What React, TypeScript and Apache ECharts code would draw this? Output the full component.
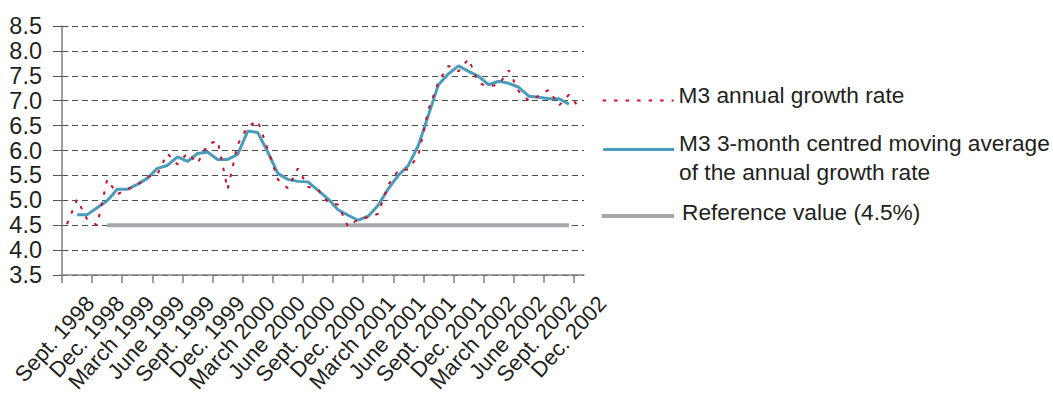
import React, { useEffect, useRef } from "react";
import * as echarts from "echarts";

// Monthly categories (Sept. 1998 – Dec. 2002)
const months = [
  "Sep 1998", "Oct 1998", "Nov 1998", "Dec 1998",
  "Jan 1999", "Feb 1999", "Mar 1999", "Apr 1999", "May 1999", "Jun 1999",
  "Jul 1999", "Aug 1999", "Sep 1999", "Oct 1999", "Nov 1999", "Dec 1999",
  "Jan 2000", "Feb 2000", "Mar 2000", "Apr 2000", "May 2000", "Jun 2000",
  "Jul 2000", "Aug 2000", "Sep 2000", "Oct 2000", "Nov 2000", "Dec 2000",
  "Jan 2001", "Feb 2001", "Mar 2001", "Apr 2001", "May 2001", "Jun 2001",
  "Jul 2001", "Aug 2001", "Sep 2001", "Oct 2001", "Nov 2001", "Dec 2001",
  "Jan 2002", "Feb 2002", "Mar 2002", "Apr 2002", "May 2002", "Jun 2002",
  "Jul 2002", "Aug 2002", "Sep 2002", "Oct 2002", "Nov 2002", "Dec 2002",
];

// Quarterly tick labels
const quarterLabels = [
  "Sept. 1998", "Dec. 1998", "March 1999", "June 1999", "Sept. 1999", "Dec. 1999",
  "March 2000", "June 2000", "Sept. 2000", "Dec. 2000", "March 2001", "June 2001",
  "Sept. 2001", "Dec. 2001", "March 2002", "June 2002", "Sept. 2002", "Dec. 2002",
];

const annualGrowth = [
  4.52, 5.02, 4.62, 4.50, 5.42, 5.12, 5.22, 5.30, 5.47, 5.52,
  5.94, 5.72, 5.95, 5.74, 6.12, 6.20, 5.22, 6.12, 6.48, 6.60,
  6.02, 5.42, 5.24, 5.64, 5.27, 5.22, 4.96, 4.91, 4.47, 4.62,
  4.66, 4.73, 5.31, 5.60, 5.62, 5.90, 6.82, 7.38, 7.70, 7.59,
  7.84, 7.35, 7.29, 7.32, 7.61, 7.19, 7.00, 7.10, 7.22, 6.90,
  7.12, 6.87,
];

const movingAverage = [
  null, 4.71, 4.71, 4.85, 4.99, 5.22, 5.22, 5.32, 5.44, 5.64,
  5.70, 5.87, 5.78, 5.94, 5.97, 5.82, 5.82, 5.92, 6.39, 6.36,
  5.97, 5.54, 5.42, 5.38, 5.37, 5.20, 5.03, 4.81, 4.70, 4.60,
  4.68, 4.90, 5.23, 5.50, 5.70, 6.10, 6.71, 7.32, 7.54, 7.70,
  7.59, 7.49, 7.32, 7.39, 7.35, 7.27, 7.09, 7.07, 7.04, 7.04,
  6.93, null,
];

const referenceValue = [
  null, null, null, null, 4.5, 4.5, 4.5, 4.5, 4.5, 4.5,
  4.5, 4.5, 4.5, 4.5, 4.5, 4.5, 4.5, 4.5, 4.5, 4.5,
  4.5, 4.5, 4.5, 4.5, 4.5, 4.5, 4.5, 4.5, 4.5, 4.5,
  4.5, 4.5, 4.5, 4.5, 4.5, 4.5, 4.5, 4.5, 4.5, 4.5,
  4.5, 4.5, 4.5, 4.5, 4.5, 4.5, 4.5, 4.5, 4.5, 4.5,
  4.5, null,
];

const NAME_A = "M3 annual growth rate";
const NAME_B = "M3 3-month centred moving average of the annual growth rate";
const NAME_C = "Reference value (4.5%)";

const FONT = "'Liberation Sans', Arial, Helvetica, sans-serif";
const TEXT = "#231f20";
const FS_Y = 23.5;
const FS_X = 22;
const FS_LEG = 22.7;
const RED = "#c8102e";
const BLUE = "#4b9bbb";
const GREY = "#a7a7a9";
const AXIS = "#808080";

export default function App() {
  const ref = useRef<HTMLDivElement>(null);

  useEffect(() => {
    if (!ref.current) return;
    const chart = echarts.init(ref.current, null, { renderer: "svg" });
    const gridBase = { top: 26, height: 249, outerBoundsMode: "none", containLabel: false };
    const tok = (lineHeight: number, padding: number[]) => ({
      fontSize: FS_LEG, color: TEXT, fontFamily: FONT, lineHeight, padding,
    });
    const legendBase = {
      orient: "vertical", padding: 0, itemHeight: 1, selectedMode: false,
      itemStyle: { opacity: 0, borderWidth: 0 },
      textStyle: { fontSize: FS_LEG, color: TEXT, fontFamily: FONT },
    };
    chart.setOption({
      animation: false,
      backgroundColor: "#ffffff",
      grid: [
        { ...gridBase, left: 62, width: 522 },
        { ...gridBase, left: 62, width: 512 },
        { ...gridBase, left: 90, width: 512 },
      ],
      xAxis: [
        {
          type: "category", gridIndex: 0, data: months, boundaryGap: true,
          axisLine: { show: true, lineStyle: { color: AXIS, width: 1.5 } },
          axisTick: { show: false }, axisLabel: { show: false }, splitLine: { show: false },
        },
        {
          type: "category", gridIndex: 1, data: quarterLabels, boundaryGap: false,
          axisLine: { show: false },
          axisTick: { show: true, interval: 0, length: 8, lineStyle: { color: AXIS, width: 1.5 } },
          axisLabel: { show: false }, splitLine: { show: false },
        },
        {
          type: "category", gridIndex: 2, data: quarterLabels, boundaryGap: false,
          axisLine: { show: false }, axisTick: { show: false }, splitLine: { show: false },
          axisLabel: { interval: 0, rotate: 48, margin: 24.5, fontSize: FS_X, color: TEXT, fontFamily: FONT },
        },
      ],
      yAxis: [
        {
          type: "value", gridIndex: 0, min: 3.5, max: 8.5, interval: 0.5,
          axisLine: { show: true, lineStyle: { color: AXIS, width: 1.5 } },
          axisTick: { show: true, length: 9, lineStyle: { color: "#555555", width: 1 } },
          axisLabel: {
            margin: 20, fontSize: FS_Y, color: TEXT, fontFamily: FONT,
            formatter: (v: number) => v.toFixed(1),
          },
          splitLine: { show: true, lineStyle: { color: "#4d4d4d", width: 1, type: [6, 4] } },
        },
        { type: "value", gridIndex: 1, show: false, min: 3.5, max: 8.5 },
        { type: "value", gridIndex: 2, show: false, min: 3.5, max: 8.5 },
      ],
      legend: [
        {
          ...legendBase,
          data: [{ name: NAME_A }], left: 601.6, top: 83, itemWidth: 71,
          lineStyle: { width: 2 },
          formatter: "{a|{name}}",
          textStyle: { ...legendBase.textStyle, rich: { a: tok(26, [0, 0, 12, 0]) } },
        },
        {
          ...legendBase,
          data: [{ name: NAME_B }], left: 601.6, top: 131, itemWidth: 71,
          lineStyle: { width: 3 },
          formatter: (name: string) => {
            const i = name.indexOf(" of the");
            return `{l1|${name.slice(0, i)}}\n{l2|${name.slice(i + 1)}}`;
          },
          textStyle: { ...legendBase.textStyle, rich: { l1: tok(44, [0, 0, 0, 0]), l2: tok(14, [0, 0, 0, 0]) } },
        },
        {
          ...legendBase,
          data: [{ name: NAME_C }], left: 600, top: 200, itemWidth: 72,
          lineStyle: { width: 4 },
          formatter: "{c|{name}}",
          textStyle: { ...legendBase.textStyle, rich: { c: tok(26, [0, 0, 9, 3]) } },
        },
      ],
      series: [
        {
          name: NAME_C, type: "line", xAxisIndex: 0, yAxisIndex: 0, data: referenceValue,
          symbol: "none", color: GREY, itemStyle: { color: GREY },
          lineStyle: { color: GREY, width: 4 }, z: 2,
        },
        {
          name: NAME_B, type: "line", xAxisIndex: 0, yAxisIndex: 0, data: movingAverage,
          symbol: "none", color: BLUE, itemStyle: { color: BLUE },
          lineStyle: { color: BLUE, width: 3 }, z: 3,
        },
        {
          name: NAME_A, type: "line", xAxisIndex: 0, yAxisIndex: 0, data: annualGrowth,
          symbol: "none", color: RED, itemStyle: { color: RED },
          lineStyle: { color: RED, width: 2, type: [3.5, 8] }, z: 4,
        },
      ],
    });
    return () => chart.dispose();
  }, []);

  return (
    <div
      ref={ref}
      style={{ position: "absolute", left: 0, top: 0, width: 1053, height: 394, background: "#fff" }}
    />
  );
}
